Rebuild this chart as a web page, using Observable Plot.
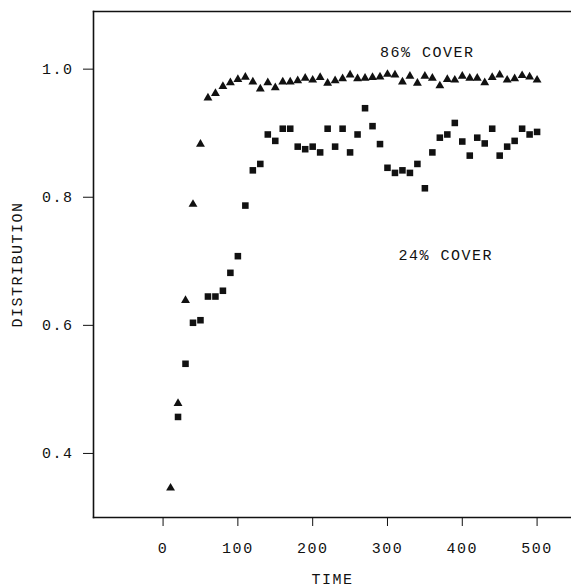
<!DOCTYPE html>
<html>
<head>
<meta charset="utf-8">
<script src="https://cdn.jsdelivr.net/npm/d3@7"></script>
<script src="https://cdn.jsdelivr.net/npm/@observablehq/plot@0.6"></script>
<style>
  html, body { margin: 0; padding: 0; background: #fff; }
  #chart svg { display: block; }
</style>
</head>
<body>
<div id="chart"></div>
<script>
// 86% cover (triangles)
const time86 = [10,20,30,40,50,60,70,80,90,100,110,120,130,140,150,160,170,180,190,200,
  210,220,230,240,250,260,270,280,290,300,310,320,330,340,350,360,370,380,390,400,
  410,420,430,440,450,460,470,480,490,500];
const dist86 = [0.346,0.478,0.639,0.789,0.883,0.955,0.962,0.973,0.979,0.984,
  0.9875,0.980,0.969,0.979,0.971,0.980,0.980,0.982,0.986,0.983,
  0.987,0.978,0.982,0.985,0.991,0.985,0.986,0.987,0.988,0.992,
  0.991,0.980,0.989,0.978,0.989,0.986,0.974,0.984,0.983,0.989,
  0.986,0.986,0.979,0.987,0.991,0.983,0.985,0.990,0.988,0.983];

// 24% cover (squares)
const time24 = [20,30,40,50,60,70,80,90,100,110,120,130,140,150,160,170,180,190,200,
  210,220,230,240,250,260,270,280,290,300,310,320,330,340,350,360,370,380,390,400,
  410,420,430,440,450,460,470,480,490,500];
const dist24 = [0.457,0.540,0.604,0.608,0.645,0.645,0.654,0.682,0.708,
  0.787,0.842,0.852,0.898,0.888,0.907,0.907,0.879,0.875,0.879,
  0.870,0.907,0.879,0.907,0.870,0.898,0.939,0.911,0.883,0.846,
  0.838,0.842,0.838,0.852,0.814,0.870,0.893,0.898,0.916,0.887,
  0.865,0.893,0.884,0.907,0.865,0.879,0.888,0.907,0.898,0.902];

const xTicks = [0,100,200,300,400,500];
const yTicks = [0.4,0.6,0.8,1.0];

const labelText = ["86% COVER", "24% COVER"];
const labelTime = [353, 378];
const labelDist = [1.027, 0.709];

const s86 = time86.map((t, i) => ({time: t, dist: dist86[i]}));
const s24 = time24.map((t, i) => ({time: t, dist: dist24[i]}));
const labels = labelText.map((t, i) => ({text: t, time: labelTime[i], dist: labelDist[i]}));

const font = "'Courier New', 'Liberation Mono', monospace";

const chart = Plot.plot({
  width: 571,
  height: 587,
  marginLeft: 93,
  marginRight: 0,
  marginTop: 11,
  marginBottom: 70,
  style: {fontFamily: font, fontSize: "15px", color: "#111", background: "#fff", letterSpacing: "1.5px"},
  x: {domain: [-93, 546]},
  y: {domain: [0.3, 1.09]},
  marks: [
    Plot.frame({anchor: "top", stroke: "#111", strokeWidth: 1.4}),
    Plot.frame({anchor: "left", stroke: "#111", strokeWidth: 1.6}),
    Plot.frame({anchor: "bottom", stroke: "#111", strokeWidth: 1.4}),
    Plot.axisX({ticks: xTicks, tickSize: 9, tickPadding: 16, tickFormat: d3.format("d"),
      label: "TIME", labelAnchor: "center", labelArrow: "none", labelOffset: 66, stroke: "#111"}),
    Plot.axisY({ticks: yTicks, tickSize: 10, tickPadding: 10, tickFormat: d3.format(".1f"),
      label: "DISTRIBUTION", labelAnchor: "center", labelArrow: "none", labelOffset: 82, stroke: "#111"}),
    Plot.dot(s86, {x: "time", y: "dist", symbol: "triangle", r: 3.3, fill: "#111", stroke: "none"}),
    Plot.dot(s24, {x: "time", y: "dist", symbol: "square", r: 3.7, fill: "#111", stroke: "none"}),
    Plot.text(labels, {x: "time", y: "dist", text: "text", fill: "#111", fontSize: 15})
  ]
});
document.getElementById("chart").appendChild(chart);
</script>
</body>
</html>
